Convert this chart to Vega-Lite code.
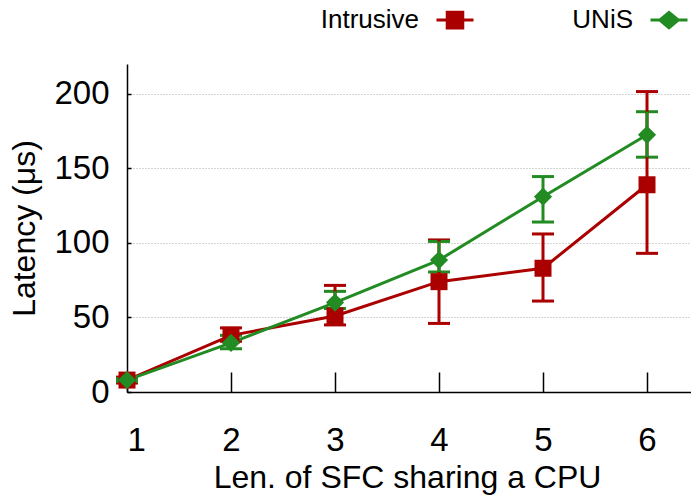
{
  "$schema": "https://vega.github.io/schema/vega-lite/v6.json",
  "width": 564,
  "height": 328,
  "autosize": {"type": "none"},
  "padding": {"left": 127, "top": 64, "right": 0, "bottom": 103},
  "background": "white",
  "config": {
    "view": {"stroke": null},
    "font": "Liberation Sans",
    "axis": {
      "labelFont": "Liberation Sans",
      "titleFont": "Liberation Sans",
      "labelFontSize": 33,
      "titleFontSize": 32,
      "titleFontWeight": "normal",
      "labelColor": "black",
      "titleColor": "black",
      "domainColor": "black",
      "domainWidth": 1.5,
      "tickColor": "black",
      "tickWidth": 1.5
    },
    "axisX": {
      "grid": false,
      "tickSize": -20,
      "labelPadding": 52,
      "labelBaseline": "top",
      "titleX": 280,
      "titleY": 95,
      "titleBaseline": "alphabetic"
    },
    "axisY": {
      "grid": true,
      "gridColor": "#a8a8a8",
      "gridDash": [1, 2],
      "gridWidth": 1,
      "tickSize": -4,
      "labelPadding": 22,
      "titleX": -93,
      "titleBaseline": "alphabetic"
    }
  },
  "data": {
    "values": [
      {"len": 1, "series": "Intrusive", "mean": 8, "lo": 6, "hi": 10},
      {"len": 2, "series": "Intrusive", "mean": 38, "lo": 34, "hi": 43},
      {"len": 3, "series": "Intrusive", "mean": 51, "lo": 45, "hi": 71.5},
      {"len": 4, "series": "Intrusive", "mean": 74, "lo": 46, "hi": 102},
      {"len": 5, "series": "Intrusive", "mean": 83, "lo": 61, "hi": 106},
      {"len": 6, "series": "Intrusive", "mean": 139, "lo": 93, "hi": 201.5},
      {"len": 1, "series": "UNiS", "mean": 8, "lo": 7, "hi": 9},
      {"len": 2, "series": "UNiS", "mean": 33, "lo": 29, "hi": 38},
      {"len": 3, "series": "UNiS", "mean": 60, "lo": 56, "hi": 67.5},
      {"len": 4, "series": "UNiS", "mean": 88.5, "lo": 80.5, "hi": 101},
      {"len": 5, "series": "UNiS", "mean": 131, "lo": 114, "hi": 144.5},
      {"len": 6, "series": "UNiS", "mean": 172.5, "lo": 157.5, "hi": 188}
    ]
  },
  "encoding": {
    "x": {
      "field": "len",
      "type": "quantitative",
      "scale": {"domain": [1, 6.423], "nice": false, "zero": false},
      "axis": {"title": "Len. of SFC sharing a CPU", "values": [1, 2, 3, 4, 5, 6], "format": "d"}
    }
  },
  "layer": [
    {
      "mark": {
        "type": "errorbar",
        "thickness": 3,
        "rule": {"opacity": 1},
        "ticks": {"size": 22, "thickness": 3, "opacity": 1}
      },
      "encoding": {
        "y": {
          "field": "lo",
          "type": "quantitative",
          "scale": {"domain": [0, 220], "nice": false},
          "axis": {"title": "Latency (μs)", "values": [0, 50, 100, 150, 200]}
        },
        "y2": {"field": "hi"},
        "color": {
          "field": "series",
          "type": "nominal",
          "scale": {"domain": ["Intrusive", "UNiS"], "range": ["#aa0000", "#228b22"]}
        },
        "detail": {"field": "series"}
      }
    },
    {
      "mark": {"type": "line", "strokeWidth": 3},
      "encoding": {
        "y": {
          "field": "mean",
          "type": "quantitative",
          "scale": {"domain": [0, 220], "nice": false},
          "axis": {"title": "Latency (μs)", "values": [0, 50, 100, 150, 200]}
        },
        "color": {
          "field": "series",
          "type": "nominal",
          "scale": {"domain": ["Intrusive", "UNiS"], "range": ["#aa0000", "#228b22"]},
          "legend": {
            "orient": "none",
            "legendX": 308,
            "legendY": -64,
            "direction": "horizontal",
            "title": null,
            "padding": 0,
            "labelAlign": "right",
            "labelOffset": -56,
            "labelFont": "Liberation Sans",
            "labelFontSize": 26,
            "labelColor": "black",
            "labelLimit": 300,
            "columnPadding": 92,
            "symbolSize": 1369,
            "symbolStrokeWidth": 3,
            "encode": {
              "symbols": {
                "update": {
                  "shape": {"signal": "datum.value === 'Intrusive' ? 'M-1,0H1M-0.42,-0.42H0.42V0.42H-0.42Z' : 'M-1,0H1M-0.5,0L0,-0.42L0.5,0L0,0.42Z'"},
                  "fill": {"scale": "color", "field": "value"},
                  "stroke": {"scale": "color", "field": "value"},
                  "strokeWidth": {"value": 3},
                  "opacity": {"value": 1}
                }
              }
            }
          }
        }
      }
    },
    {
      "transform": [{"filter": "datum.series === 'Intrusive'"}],
      "mark": {"type": "point", "shape": "square", "filled": true, "opacity": 1, "size": 289, "color": "#aa0000"},
      "encoding": {
        "y": {
          "field": "mean",
          "type": "quantitative",
          "scale": {"domain": [0, 220], "nice": false},
          "axis": {"title": "Latency (μs)", "values": [0, 50, 100, 150, 200]}
        }
      }
    },
    {
      "transform": [{"filter": "datum.series === 'UNiS'"}],
      "mark": {"type": "point", "shape": "diamond", "filled": true, "opacity": 1, "size": 330, "color": "#228b22"},
      "encoding": {
        "y": {
          "field": "mean",
          "type": "quantitative",
          "scale": {"domain": [0, 220], "nice": false},
          "axis": {"title": "Latency (μs)", "values": [0, 50, 100, 150, 200]}
        }
      }
    }
  ]
}
